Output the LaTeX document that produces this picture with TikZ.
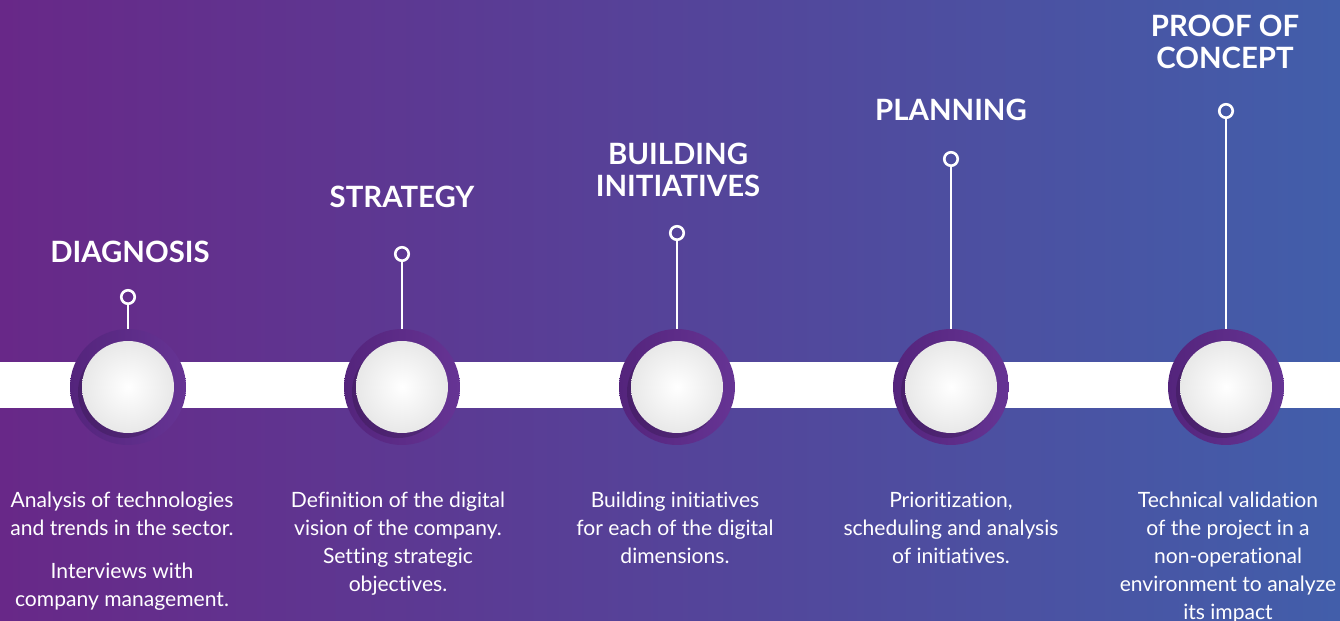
\documentclass[tikz,border=0pt]{standalone}
\usepackage{fontspec}
\setmainfont{Lato}[Ligatures={NoCommon,NoContextual}]
\usetikzlibrary{positioning}

\definecolor{bgleft}{RGB}{104,40,136}
\definecolor{bgright}{RGB}{66,94,170}
\definecolor{ringdark}{RGB}{84,36,124}
\definecolor{ringlight}{RGB}{102,52,148}

\tikzset{
  ring/.style={circle, inner sep=0, minimum size=2.32cm, shade, shading angle=45,
    left color=ringdark, right color=ringlight},
  disc/.style={circle, inner sep=0, minimum size=1.84cm, inner color=white, outer color=black!9},
  pin/.style={circle, draw=white, line width=1.5pt, inner sep=0, minimum size=0.27cm},
  stem/.style={white, line width=1.5pt},
  heading/.style={white, align=center, font=\bfseries\fontsize{16.7}{18}\selectfont},
  blurb/.style={white, align=center, anchor=north, inner sep=0, font=\fontsize{12}{15.9}\selectfont}
}

\begin{document}
\begin{tikzpicture}[x=0.02cm, y=-0.02cm]
  \shade[left color=bgleft, right color=bgright] (0,0) rectangle (1340,621);
  \useasboundingbox (0,0) rectangle (1340,621);
  % white band
  \fill[white] (0,362) rectangle (1340,408);

  \foreach \i/\x/\y in {1/128/297, 2/402/254, 3/677/233, 4/951/159, 5/1226/111} {
    \node[ring] (hub\i) at (\x,387) {};
    \fill[black, opacity=0.15] (\x-4,392) circle[radius=46];
    \node[disc] (disc\i) at (hub\i) {};
    \node[pin] (pin\i) at (\x,\y) {};
    \draw[stem] (pin\i) -- (hub\i);
  }

  \node[heading] (head1) at (130,252) {DIAGNOSIS};
  \node[heading] (head2) at (402,197) {STRATEGY};
  \node[heading] (head3) at (678,170) {BUILDING\\INITIATIVES};
  \node[heading] (head4) at (951,110) {PLANNING};
  \node[heading] (head5) at (1225,42) {PROOF OF\\CONCEPT};

  \node[blurb] (desc1) at (122,492) {Analysis of technologies\\and trends in the sector.\\[0.3cm]Interviews with\\company management.};
  \node[blurb] (desc2) at (398,492) {Definition of the digital\\vision of the company.\\Setting strategic\\objectives.};
  \node[blurb] (desc3) at (675,492) {Building initiatives\\for each of the digital\\dimensions.};
  \node[blurb] (desc4) at (951,492) {Prioritization,\\scheduling and analysis\\of initiatives.};
  \node[blurb] (desc5) at (1228,492) {Technical validation\\of the project in a\\non-operational\\environment to analyze\\its impact};
\end{tikzpicture}
\end{document}
